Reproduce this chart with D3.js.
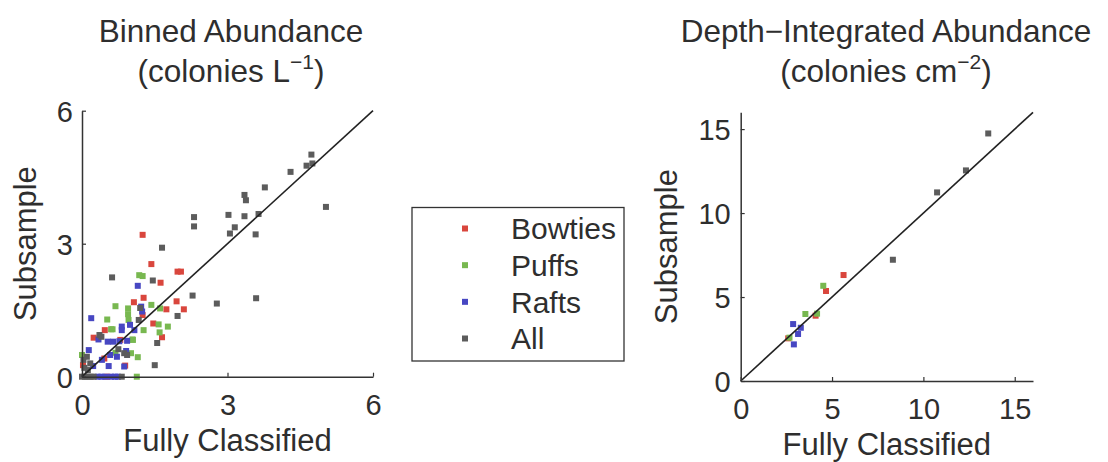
<!DOCTYPE html>
<html>
<head>
<meta charset="utf-8">
<script src="https://cdn.jsdelivr.net/npm/d3@7"></script>
<style>
  html, body { margin: 0; padding: 0; background: #fff; }
  svg { display: block; font-family: "Liberation Sans", Arial, Helvetica, sans-serif; }
</style>
</head>
<body>
<svg id="chart" width="1108" height="462"></svg>
<script>
// Series names and colours
const seriesNames = ["Bowties", "Puffs", "Rafts", "All"];
const seriesColors = ["#d9463d", "#78b850", "#4747c2", "#5c5c5c"];

// Binned abundance (colonies per litre): fully classified vs subsample
const binnedBowtiesX = [1.25, 1.43, 1.97, 2.04, 1.62, 1.27, 1.07, 1.95, 2.10, 1.74, 1.25, 1.47, 0.47, 0.24, 1.65, 0.79, 0.89, 0.02, 0.46, 0.52];
const binnedBowtiesY = [3.20, 2.54, 2.37, 2.37, 2.12, 1.78, 1.68, 1.70, 1.52, 1.52, 1.39, 1.20, 1.05, 0.88, 0.89, 0.83, 0.25, 0.26, 0.41, 0.00];

const binnedPuffsX = [1.18, 1.25, 0.69, 0.95, 0.95, 1.43, 1.61, 0.52, 0.60, 0.96, 1.27, 1.58, 1.77, 1.60, 1.04, 0.69, 1.15, 1.01, 0.00, 1.13, 0.63, 1.05];
const binnedPuffsY = [2.29, 2.27, 1.59, 1.54, 1.41, 1.62, 1.54, 1.29, 1.07, 1.28, 1.05, 1.18, 1.13, 1.00, 0.84, 0.54, 0.44, 0.53, 0.49, 0.00, 1.07, 0.83];

const binnedRaftsX = [1.15, 0.19, 1.22, 0.82, 0.82, 0.99, 1.08, 1.24, 0.34, 0.53, 0.64, 0.93, 0.77, 0.14, 0.58, 0.72, 0.41, 0.23, 0.55, 0.87, 0.91, 0.32, 0.40, 0.48, 0.60, 0.68, 0.74];
const binnedRaftsY = [2.05, 1.32, 1.58, 1.13, 1.05, 1.17, 1.05, 1.47, 0.84, 0.79, 0.79, 0.81, 0.80, 0.60, 0.49, 0.45, 0.38, 0.24, 0.24, 0.23, 0.58, 0.00, 0.00, 0.00, 0.00, 0.00, 0.00];

const binnedAllX = [4.73, 4.63, 4.75, 4.30, 3.77, 3.35, 3.38, 5.03, 3.64, 3.35, 3.02, 2.31, 2.31, 3.15, 3.05, 3.58, 1.65, 0.62, 1.46, 2.28, 2.78, 3.59, 1.97, 1.55, 1.50, 1.20, 1.17, 0.36, 0.40, 0.87, 0.93, 0.75, 0.03, 0.10, 0.17, 0.05, 0.12, 0.00, 0.06, 0.12, 0.18, 0.24, 0.82];
const binnedAllY = [5.01, 4.76, 4.81, 4.62, 4.27, 4.10, 3.98, 3.83, 3.67, 3.62, 3.65, 3.60, 3.39, 3.37, 3.23, 3.21, 2.91, 2.24, 2.17, 1.83, 1.65, 1.77, 1.37, 0.76, 0.26, 1.55, 1.28, 0.94, 0.90, 0.53, 0.49, 0.62, 0.38, 0.45, 0.30, 0.20, 0.15, 0.00, 0.00, 0.00, 0.00, 0.00, 0.00];

// Depth-integrated abundance (colonies per cm^2)
const integBowtiesX = [5.63, 4.67, 4.10, 2.60];
const integBowtiesY = [6.31, 5.36, 3.89, 2.54];
const integPuffsX = [4.52, 3.54, 4.18, 2.67];
const integPuffsY = [5.67, 3.99, 4.01, 2.58];
const integRaftsX = [2.87, 3.29, 3.14, 2.91];
const integRaftsY = [3.39, 3.17, 2.80, 2.18];
const integAllX = [13.55, 12.33, 10.75, 8.33];
const integAllY = [14.74, 12.54, 11.23, 7.22];

// Axis ticks
const binnedTicks = [0, 3, 6];
const integTicks = [0, 5, 10, 15];

const svg = d3.select("#chart");
const textColor = "#2e2e2e";
const axisColor = "#333";
const markerSize = 6;

function zip(xs, ys) { return xs.map((x, i) => ({ x, y: ys[i] })); }

function drawPanel(cfg) {
  const x = d3.scaleLinear().domain(cfg.domain).range([cfg.left, cfg.right]);
  const y = d3.scaleLinear().domain(cfg.domain).range([cfg.bottom, cfg.top]);
  const g = svg.append("g");

  // markers, one group per series
  cfg.series.forEach((s, i) => {
    g.append("g").selectAll("rect")
      .data(zip(s.x, s.y))
      .join("rect")
      .attr("x", d => x(d.x) - markerSize / 2)
      .attr("y", d => y(d.y) - markerSize / 2)
      .attr("width", markerSize)
      .attr("height", markerSize)
      .attr("fill", seriesColors[i]);
  });

  // 1:1 line
  g.append("line")
    .attr("x1", x(cfg.domain[0])).attr("y1", y(cfg.domain[0]))
    .attr("x2", x(cfg.domain[1])).attr("y2", y(cfg.domain[1]))
    .attr("stroke", "#222").attr("stroke-width", 1.6);

  // axes with inward ticks
  const fmt = d3.format("d");
  const xAxis = g.append("g")
    .attr("transform", `translate(0,${cfg.bottom})`)
    .call(d3.axisBottom(x).tickValues(cfg.ticks).tickFormat(fmt).tickSizeInner(-4).tickSizeOuter(0));
  const yAxis = g.append("g")
    .attr("transform", `translate(${cfg.left},0)`)
    .call(d3.axisLeft(y).tickValues(cfg.ticks).tickFormat(fmt).tickSizeInner(-4).tickSizeOuter(0));

  [xAxis, yAxis].forEach(a => {
    a.select(".domain").attr("stroke", axisColor).attr("stroke-width", 1.5);
    a.selectAll(".tick line").attr("stroke", axisColor).attr("stroke-width", 1.2);
    a.selectAll(".tick text")
      .attr("fill", textColor)
      .style("font-size", "29px")
      .style("font-family", "'Liberation Sans', Arial, sans-serif");
  });
  xAxis.selectAll(".tick text").attr("y", 38).attr("dy", 0);
  yAxis.selectAll(".tick text").attr("x", -cfg.yTickGap).attr("dy", "0.36em");

  // axis titles
  g.append("text")
    .attr("x", (cfg.left + cfg.right) / 2)
    .attr("y", cfg.bottom + 74)
    .attr("text-anchor", "middle")
    .attr("fill", textColor)
    .style("font-size", "31px")
    .text("Fully Classified");
  g.append("text")
    .attr("transform", `translate(${cfg.yLabelX},${(cfg.top + cfg.bottom) / 2}) rotate(-90)`)
    .attr("text-anchor", "middle")
    .attr("fill", textColor)
    .style("font-size", "31px")
    .text("Subsample");

  // panel title on two lines with superscript unit
  const cx = cfg.titleX;
  g.append("text")
    .attr("x", cx).attr("y", 42)
    .attr("text-anchor", "middle")
    .attr("fill", textColor)
    .style("font-size", "31.5px")
    .text(cfg.title);
  const t2 = g.append("text")
    .attr("x", cx).attr("y", 82)
    .attr("text-anchor", "middle")
    .attr("fill", textColor)
    .style("font-size", "31.5px");
  t2.append("tspan").text(cfg.unit);
  t2.append("tspan").attr("dy", -13).style("font-size", "21px").text(cfg.exponent);
  t2.append("tspan").attr("dy", 13).text(")");
}

drawPanel({
  domain: [0, 6], ticks: binnedTicks,
  left: 82, right: 373, top: 110.7, bottom: 376.7,
  yTickGap: 9, yLabelX: 36,
  titleX: 231,
  title: "Binned Abundance", unit: "(colonies L", exponent: "\u22121",
  series: [
    { x: binnedBowtiesX, y: binnedBowtiesY },
    { x: binnedPuffsX, y: binnedPuffsY },
    { x: binnedRaftsX, y: binnedRaftsY },
    { x: binnedAllX, y: binnedAllY }
  ]
});

drawPanel({
  domain: [0, 16], ticks: integTicks,
  left: 740.7, right: 1033, top: 112.3, bottom: 381,
  yTickGap: 10, yLabelX: 677,
  titleX: 886,
  title: "Depth\u2212Integrated Abundance", unit: "(colonies cm", exponent: "\u22122",
  series: [
    { x: integBowtiesX, y: integBowtiesY },
    { x: integPuffsX, y: integPuffsY },
    { x: integRaftsX, y: integRaftsY },
    { x: integAllX, y: integAllY }
  ]
});

// legend
const legend = svg.append("g");
legend.append("rect")
  .attr("x", 412).attr("y", 207.5)
  .attr("width", 212).attr("height", 153.5)
  .attr("fill", "#fff").attr("stroke", axisColor).attr("stroke-width", 1.3);
const rowY = d3.scalePoint().domain(seriesNames).range([228.5, 338.5]);
const items = legend.selectAll("g.item").data(seriesNames).join("g").attr("class", "item");
items.append("rect")
  .attr("x", 462).attr("y", d => rowY(d) - 3)
  .attr("width", 6).attr("height", 6)
  .attr("fill", (d, i) => seriesColors[i]);
items.append("text")
  .attr("x", 511).attr("y", d => rowY(d))
  .attr("dy", "0.36em")
  .attr("fill", textColor)
  .style("font-size", "30px")
  .text(d => d);
</script>
</body>
</html>
